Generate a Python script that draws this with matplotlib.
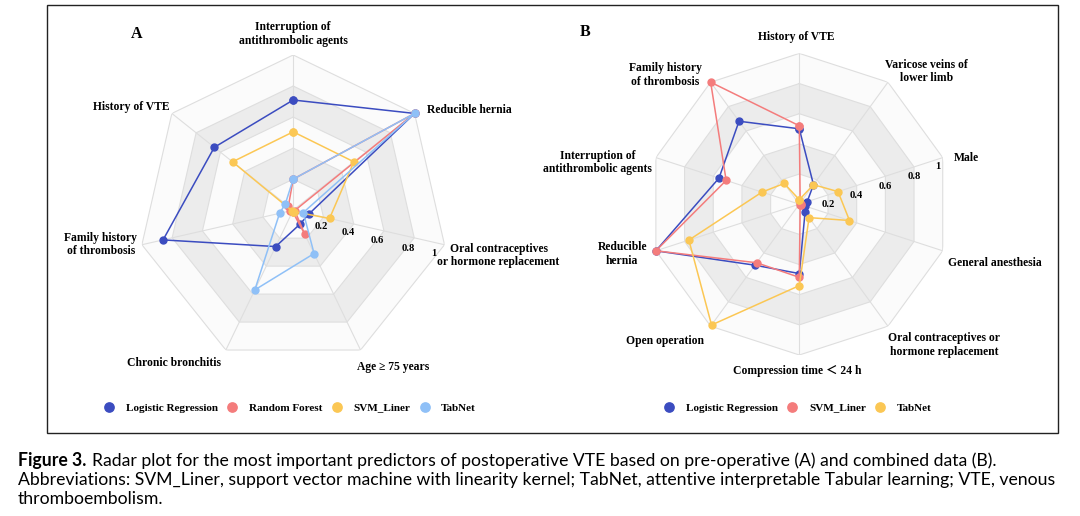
import numpy as np
import matplotlib
matplotlib.use("Agg")
import matplotlib.pyplot as plt
from matplotlib.patches import Rectangle
from matplotlib.lines import Line2D

# Panel A - pre-operative predictors
cats_a = ["Interruption of\nantithrombolic agents", "Reducible hernia",
          "Oral contraceptives\nor hormone replacement", "Age \u2265 75 years",
          "Chronic bronchitis", "Family history\nof thrombosis", "History of VTE"]
lr_a = [0.71, 1.0, 0.105, 0.10, 0.26, 0.86, 0.65]
rf_a = [0.20, 1.0, 0.01, 0.17, 0.01, 0.02, 0.04]
svm_a = [0.505, 0.50, 0.24, 0.01, 0.01, 0.01, 0.50]
tab_a = [0.20, 1.0, 0.067, 0.31, 0.57, 0.09, 0.065]

# Panel B - combined data
cats_b = ["History of VTE", "Varicose veins of\nlower limb", "Male", "General anesthesia",
          "Oral contraceptives or\nhormone replacement", "Compression time \uff1c 24 h",
          "Open operation", "Reducible\nhernia", "Interruption of\nantithrombolic agents",
          "Family history\nof thrombosis"]
lr_b = [0.50, 0.16, 0.055, 0.04, 0.065, 0.46, 0.50, 1.0, 0.56, 0.68]
svm_b = [0.52, 0.01, 0.01, 0.01, 0.01, 0.485, 0.48, 1.0, 0.51, 1.0]
tab_b = [0.03, 0.16, 0.27, 0.35, 0.11, 0.54, 0.99, 0.77, 0.26, 0.17]

tick_vals = [0.2, 0.4, 0.6, 0.8, 1.0]
tick_labels = ["0.2", "0.4", "0.6", "0.8", "1"]

C_LR = "#3b4cc0"
C_RF = "#f47c7c"
C_SVM = "#fbc754"
C_TAB = "#8fc0f7"

SERIF = ["Liberation Serif", "Noto Sans CJK SC", "DejaVu Sans"]

W, H = 1080, 516
fig = plt.figure(figsize=(W / 100, H / 100), dpi=100)


def radar(cx, cy, R, cats, series, label_off, tick_spoke, tick_off):
    rect = [(cx - R) / W, (H - cy - R) / H, 2 * R / W, 2 * R / H]
    ax = fig.add_axes(rect, projection="polar")
    n = len(cats)
    th = np.linspace(0, 2 * np.pi, n, endpoint=False)
    thc = np.append(th, th[0])
    ax.set_theta_offset(np.pi / 2)
    ax.set_theta_direction(-1)
    ax.set_ylim(0, 1)
    ax.set_xticks([])
    ax.set_yticks([])
    ax.spines["polar"].set_visible(False)
    ax.grid(False)
    ax.patch.set_alpha(0)

    # alternating split areas, outer to inner
    for i, lev in enumerate(tick_vals[::-1]):
        col = "#fbfbfb" if i % 2 == 0 else "#ececec"
        ax.fill(thc, [lev] * (n + 1), color=col, lw=0, zorder=1)
    for lev in tick_vals:
        ax.plot(thc, [lev] * (n + 1), color="#dedede", lw=0.8, zorder=2)
    for t in th:
        ax.plot([t, t], [0, 1], color="#dedede", lw=0.8, zorder=2)

    for vals, col in series:
        v = np.append(vals, vals[0])
        ax.plot(thc, v, color=col, lw=1.1, marker="o", ms=5, zorder=3, clip_on=False)

    for t, lab, off in zip(th, cats, label_off):
        ax.annotate(lab, xy=(t, 1.0), xytext=off, textcoords="offset pixels",
                    ha="center", va="center", multialignment="center",
                    fontsize=8.4, fontweight="bold", family=SERIF,
                    linespacing=1.15, annotation_clip=False)

    for r, lab, off in zip(tick_vals, tick_labels, tick_off):
        ax.annotate(lab, xy=(th[tick_spoke], r), xytext=off, textcoords="offset pixels",
                    ha="center", va="center", fontsize=7.6, fontweight="bold",
                    family=SERIF, annotation_clip=False, zorder=4)
    return ax


off_a = [(0, 21), (55, 3.4), (54, -11), (32.3, -17), (-51.8, -13), (-41, 0), (-41, 6.7)]
tick_off_a = [(-2, -9), (-5, -8.5), (-6.4, -9.3), (-6, -10.7), (-11, -9)]
radar(293.2, 210.2, 155.2, cats_a,
      [(lr_a, C_LR), (rf_a, C_RF), (svm_a, C_SVM), (tab_a, C_TAB)],
      off_a, 2, tick_off_a)

off_b = [(-3.3, 16.3), (38.9, 10.5), (23.4, 0), (51.7, -12.3), (56.2, -18.8),
         (-2, -15.7), (-45.5, -14.5), (-33.7, -3.3), (-58.2, -4.7), (-45.5, 7.3)]
tick_off_b = [(0, -9.5), (0, -10), (0, -9.8), (0, -9.8), (-5, -9)]
radar(799.3, 204.2, 150.8, cats_b,
      [(lr_b, C_LR), (svm_b, C_RF), (tab_b, C_SVM)],
      off_b, 2, tick_off_b)

# panel letters
fig.text(136.3 / W, 1 - 33.7 / H, "A", ha="center", va="center", fontsize=11.5,
         fontweight="bold", family=SERIF)
fig.text(585.3 / W, 1 - 32.5 / H, "B", ha="center", va="center", fontsize=11.5,
         fontweight="bold", family=SERIF)

# legends
def mk(c):
    return Line2D([], [], ls="none", marker="o", ms=6.7, color=c)

leg_kw = dict(loc="center left", frameon=False, borderpad=0, borderaxespad=0,
              handlelength=1.0, handletextpad=1.0, columnspacing=0.8,
              prop=dict(family=SERIF, weight="bold", size=8))
fig.legend([mk(C_LR), mk(C_RF), mk(C_SVM), mk(C_TAB)],
           ["Logistic Regression", "Random Forest", "SVM_Liner", "TabNet"],
           ncol=4, bbox_to_anchor=(103.5 / W, 1 - 407.7 / H), **leg_kw)
fig.legend([mk(C_LR), mk(C_RF), mk(C_SVM)],
           ["Logistic Regression", "SVM_Liner", "TabNet"],
           ncol=3, bbox_to_anchor=(663.8 / W, 1 - 407.7 / H), **leg_kw)

# frame around both panels
fig.add_artist(Rectangle((47 / W, 1 - 433 / H), (1058 - 47) / W, (433 - 5) / H,
                         transform=fig.transFigure, fill=False, ec="#222222", lw=1.0))

# caption
cap1 = "Radar plot for the most important predictors of postoperative VTE based on pre-operative (A) and combined data (B)."
cap2 = ("Abbreviations: SVM_Liner, support vector machine with linearity kernel; TabNet, "
        "attentive interpretable Tabular learning; VTE, venous")
cap3 = "thromboembolism."

fig.canvas.draw()
rend = fig.canvas.get_renderer()
probe = fig.text(0, 0, cap2, fontsize=12, family="Lato")
w = probe.get_window_extent(rend).width
probe.remove()
fs = 12 * (1052 - 18) / w

x0 = 18 / W
t1 = fig.text(x0, 1 - 466 / H, "Figure 3.", fontsize=fs, family="Lato", fontweight="bold",
              va="baseline")
wb = t1.get_window_extent(rend).width
fig.text(x0 + (wb + 0.45 * fs) / W, 1 - 466 / H, cap1, fontsize=fs, family="Lato",
         va="baseline")
fig.text(x0, 1 - 485 / H, cap2, fontsize=fs, family="Lato", va="baseline")
fig.text(x0, 1 - 504 / H, cap3, fontsize=fs, family="Lato", va="baseline")

fig.savefig("out.png", dpi=100, facecolor="white")
